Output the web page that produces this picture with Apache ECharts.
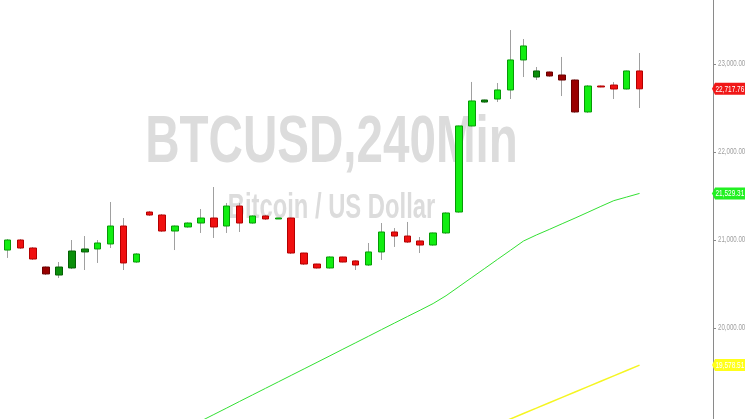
<!DOCTYPE html>
<html><head><meta charset="utf-8">
<script src="https://cdn.jsdelivr.net/npm/echarts@6/dist/echarts.min.js"></script>
<style>html,body{margin:0;padding:0;background:#fff}#c{width:745px;height:419px}</style>
</head><body><div id="c"></div>
<script>
// ---- data (BTCUSD, 240 min candles) ----
const opens  = [20886,21000,20909,20693,20602,20682,20864,20898,20955,21159,
                20750,21318,21284,21102,21148,21193,21250,21159,21386,21193,
                21273,21239,21250,20852,20727,20682,20807,20762,20716,20864,
                21091,21045,20989,20943,21080,21318,22296,22568,22602,22705,
                23046,22852,22909,22875,22818,22455,22750,22761,22716,22921];
const closes = [21000,20909,20784,20614,20693,20875,20898,20966,21159,20739,
                20841,21284,21102,21159,21193,21250,21148,21386,21193,21273,
                21239,21250,20852,20727,20682,20807,20750,20716,20864,21091,
                21045,20977,20943,21080,21307,22296,22580,22591,22705,23046,
                23205,22921,22864,22818,22455,22750,22739,22716,22921,22717.76];
const lows   = [20796,20898,20773,20602,20568,20670,20659,20739,20909,20659,
                20740,21273,21091,20886,21140,21080,21023,21080,21091,21185,
                21228,21239,20841,20716,20675,20675,20745,20659,20705,20773,
                20921,20966,20852,20935,21070,21310,22290,22560,22568,22602,
                22852,22818,22855,22636,22445,22445,22735,22602,22710,22500];
const highs  = [21011,21011,20920,20700,20750,21000,21045,21000,21432,21250,
                20850,21330,21295,21165,21200,21352,21602,21420,21420,21280,
                21285,21250,21255,20855,20730,20815,20810,20770,20966,21193,
                21136,21205,21034,21085,21315,22300,22796,22595,22784,23386,
                23284,22966,22915,23080,22825,22760,22755,22795,22925,23125];
// candles drawn in the darker shade (0-based index)
const darkCandles = [3,4,5,6,37,41,42,43,44];
// moving averages
const maGreen = [null,null,null,null,null,null,null,null,null,null,null,null,null,null,
  18868,18943,19017,19091,19166,19240,19314,19388,19462,19536,19610,19684,19759,19833,
  19907,19982,20056,20130,20203,20278,20367,20470,20574,20677,20781,20884,20988,21057,
  21120,21185,21249,21315,21382,21447,21488,21529.31];
const maYellow = [null,null,null,null,null,null,null,null,null,null,null,null,null,null,
  null,null,null,null,null,null,null,null,null,null,null,null,null,null,null,null,
  null,null,null,null,null,null,null,null,
  18906,18967,19028,19089,19151,19212,19273,19334,19395,19456,19517,19578.51];
const yTicks = [20000,21000,22000,23000];
const emptySlots = 5;
const titleText = 'BTCUSD,240Min';
const subtitleText = 'Bitcoin / US Dollar';

// ---- build ----
const n = opens.length;
const categories = Array.from({length: n + emptySlots}, (_, i) => 'bar ' + (i + 1));
const fmt = v => v.toLocaleString('en-US', {minimumFractionDigits: 2, maximumFractionDigits: 2});
const lastClose = closes[n - 1], lastGreen = maGreen[n - 1], lastYellow = maYellow[n - 1];

const wickData = opens.map((o, i) => [o, closes[i], lows[i], highs[i]]);
const bodyData = opens.map((o, i) => {
  const c = closes[i];
  const up = c >= o;
  const dark = darkCandles.includes(i);
  let fill, border;
  if (up) { fill = dark ? '#0a8f0a' : '#11ee11'; border = dark ? '#056005' : '#079a07'; }
  else    { fill = dark ? '#990000' : '#f01010'; border = dark ? '#6a0000' : '#b30000'; }
  return { value: [o, c, Math.min(o, c), Math.max(o, c)],
           itemStyle: { color: fill, color0: fill, borderColor: border, borderColor0: border } };
});

// right-hand price labels: kind 0 = tick label, 1 = close, 2 = green MA, 3 = yellow MA
const labelData = yTicks.map(v => [0, v, 0])
  .concat([[0, lastClose, 1], [0, lastGreen, 2], [0, lastYellow, 3]]);
const badgeFill = ['', '#f01818', '#22f022', '#ffff1a'];
const AXIS_OFFSET = 2.5;

const yMin = 18965.9, yMax = 23727.3;
const chart = echarts.init(document.getElementById('c'), null, {renderer: 'canvas'});
chart.setOption({
  animation: false,
  backgroundColor: '#ffffff',
  grid: { left: 1, right: 34.5, top: 0, bottom: 0, containLabel: false, outerBoundsMode: 'none' },
  xAxis: { type: 'category', data: categories, boundaryGap: true, show: false },
  yAxis: { type: 'value', position: 'right', min: yMin, max: yMax, offset: AXIS_OFFSET, scale: true,
      axisLine: { show: true, lineStyle: { color: '#8a8a8a', width: 1 } },
      axisTick: { show: true, length: 3, lineStyle: { color: '#8a8a8a' }, customValues: yTicks },
      axisLabel: { show: false },
      splitLine: { show: false } },
  graphic: [
    { type: 'text', x: 331.5, y: 144, scaleX: 0.71, z: -10, silent: true,
      style: { text: titleText, x: 0, y: 0, align: 'center', verticalAlign: 'middle',
               font: 'bold 67px "Liberation Sans", Arial, sans-serif', fill: '#dcdcdc' } },
    { type: 'text', x: 331.5, y: 208, scaleX: 0.68, z: -10, silent: true,
      style: { text: subtitleText, x: 0, y: 0, align: 'center', verticalAlign: 'middle',
               font: 'bold 35px "Liberation Sans", Arial, sans-serif', fill: '#dcdcdc' } }
  ],
  series: [
    { type: 'line', data: maGreen, showSymbol: false, symbol: 'none', connectNulls: false,
      lineStyle: { color: '#33e033', width: 1 }, z: 1 },
    { type: 'line', data: maYellow, showSymbol: false, symbol: 'none',
      lineStyle: { color: '#f5f522', width: 1.5 }, z: 1 },
    { type: 'candlestick', data: wickData, barWidth: 1, z: 2,
      itemStyle: { color: '#a0a0a0', color0: '#a0a0a0', borderColor: '#a0a0a0', borderColor0: '#a0a0a0', borderWidth: 1 } },
    { type: 'candlestick', data: bodyData, barWidth: 7, z: 3,
      itemStyle: { borderWidth: 1 } },
    { type: 'custom', data: labelData, z: 10, clip: false, silent: true,
      encode: { x: 0, y: 1 },
      renderItem: (params, api) => {
        const cs = params.coordSys;
        const ax = cs.x + cs.width + AXIS_OFFSET;
        const v = api.value(1), kind = api.value(2);
        const y = api.coord([0, v])[1];
        const txt = fmt(v);
        if (kind === 0) {
          return { type: 'text', x: ax + 5, y: y, scaleX: 0.68,
                   style: { text: txt, x: 0, y: 0, align: 'left', verticalAlign: 'middle',
                            font: '9px "Liberation Sans", Arial, sans-serif', fill: '#a0a0a0' } };
        }
        return { type: 'group', children: [
          { type: 'polygon', shape: { points: [[ax - 1, y], [ax + 2, y - 6], [745, y - 6], [745, y + 6], [ax + 2, y + 6]] },
            style: { fill: badgeFill[kind] } },
          { type: 'text', x: ax + 2.5, y: y + 0.5, scaleX: 0.72,
            style: { text: txt, x: 0, y: 0, align: 'left', verticalAlign: 'middle',
                     font: '9px "Liberation Sans", Arial, sans-serif', fill: '#ffffff' } }
        ] };
      } }
  ]
});
</script>
</body></html>
